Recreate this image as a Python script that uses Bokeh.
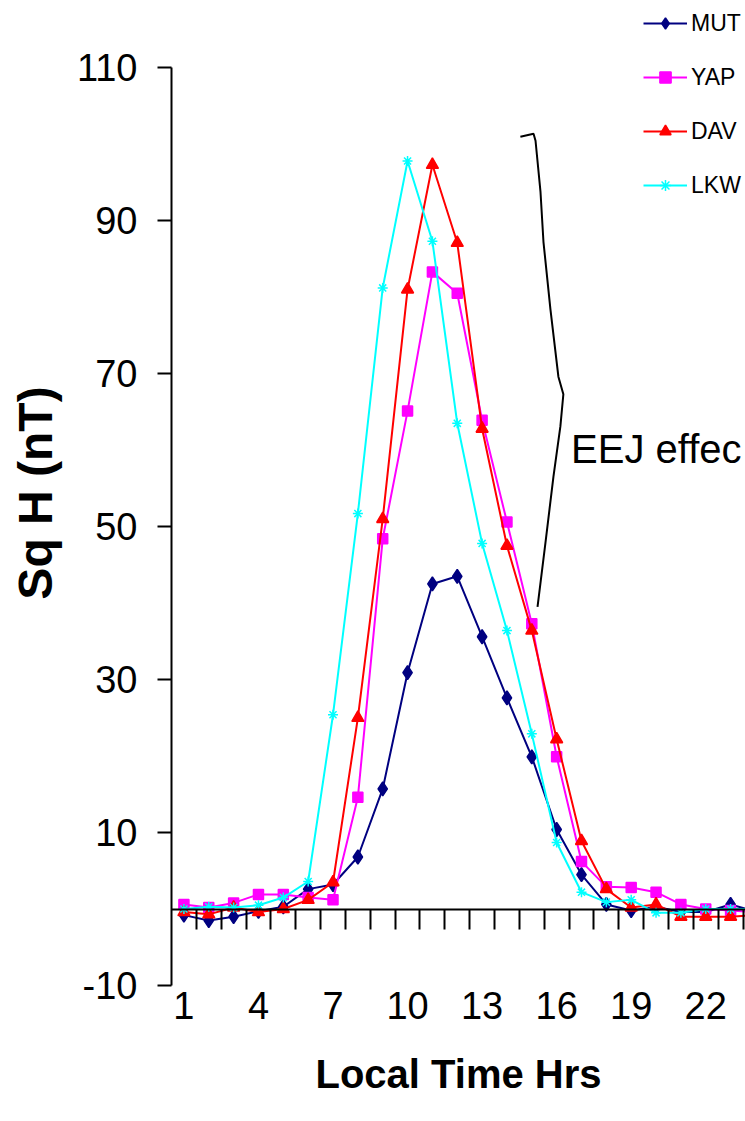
from bokeh.plotting import figure
from bokeh.models import Range1d, LinearAxis, FixedTicker, Legend, LegendItem
from bokeh.core.properties import value
from bokeh.embed import file_html
from bokeh.resources import INLINE

# local time hours and Sq H (nT) per station
hours = list(range(1, 25))
mut = [-0.8, -1.5, -1.0, -0.3, 0.3, 2.6, 3.2, 6.8, 15.7, 30.9, 42.5, 43.5,
       35.6, 27.6, 19.9, 10.4, 4.5, 0.6, -0.2, 0.3, -0.4, -0.4, 0.6, -0.3]
yap = [0.6, 0.2, 0.8, 1.9, 1.9, 1.5, 1.2, 14.6, 48.4, 65.1, 83.3, 80.5,
       63.9, 50.6, 37.3, 19.9, 6.2, 2.9, 2.8, 2.2, 0.6, 0.0, -0.2, -0.4]
dav = [-0.4, -0.7, 0.2, -0.4, 0.0, 1.2, 3.5, 25.0, 51.0, 81.0, 97.3, 87.1,
       62.8, 47.5, 36.4, 22.2, 8.9, 2.6, 0.2, 0.6, -1.0, -1.0, -1.0, -0.8]
lkw = [0.0, 0.3, 0.2, 0.5, 1.5, 3.6, 25.4, 51.7, 81.2, 97.8, 87.3, 63.5,
       47.8, 36.4, 22.9, 8.7, 2.2, 0.9, 1.2, -0.5, -0.5, 0.0, 0.0, 0.0]

y_ticks = [-10, 10, 30, 50, 70, 90, 110]
x_labels = hours[::3]

# the hand drawn brace and its note
brace_x = [14.54, 15.07, 15.15, 15.35, 15.47, 15.75, 16.07, 16.27, 16.15, 15.87, 15.55, 15.23]
brace_y = [100.96, 101.35, 100.44, 93.75, 87.2, 78.4, 69.6, 67.3, 63.1, 56.5, 47.9, 39.5]
note_x = [16.58]
note_y = [60.1]
note_text = ["EEJ effec"]

FONT = "Liberation Sans"

p = figure(width=745, height=1121,
           x_range=Range1d(0.5, 23.6), y_range=Range1d(-10, 118.78),
           x_axis_type=None, y_axis_type=None,
           min_border_left=171, min_border_right=0,
           min_border_top=0, min_border_bottom=136,
           output_backend="svg", toolbar_location=None, tools="")
p.outline_line_color = None

# y axis, only drawn from -10 to 110
yax = LinearAxis(ticker=FixedTicker(ticks=y_ticks), axis_label="Sq H (nT)", bounds=(-10, 110))
yax.major_label_overrides = {-10: "-10"}
yax.axis_line_width = 2
yax.major_tick_line_width = 2
yax.major_tick_in = 0
yax.major_tick_out = 14
yax.minor_tick_in = 0
yax.minor_tick_out = 0
yax.major_label_standoff = 20
yax.major_label_text_font = FONT
yax.major_label_text_font_size = "38px"
yax.major_label_text_color = "black"
yax.axis_label_text_font = FONT
yax.axis_label_text_font_style = "bold"
yax.axis_label_text_font_size = "48px"
yax.axis_label_text_color = "black"
yax.axis_label_standoff = 12
p.add_layout(yax, "left")

# hour labels at the bottom
xax = LinearAxis(ticker=FixedTicker(ticks=x_labels), axis_label="Local Time Hrs")
xax.axis_line_color = None
xax.major_tick_line_color = None
xax.minor_tick_line_color = None
xax.major_tick_out = 0
xax.major_tick_in = 0
xax.minor_tick_out = 0
xax.major_label_standoff = 6
xax.major_label_text_font = FONT
xax.major_label_text_font_size = "38px"
xax.major_label_text_color = "black"
xax.axis_label_text_font = FONT
xax.axis_label_text_font_style = "bold"
xax.axis_label_text_font_size = "40px"
xax.axis_label_text_color = "black"
xax.axis_label_standoff = 30
p.add_layout(xax, "below")

# category axis crossing at zero, ticks between the hours
zax = LinearAxis(ticker=FixedTicker(ticks=[h + 0.5 for h in hours]), fixed_location=0)
zax.axis_line_width = 2
zax.major_tick_line_width = 2
zax.major_tick_in = 20
zax.major_tick_out = 0
zax.minor_tick_in = 0
zax.minor_tick_out = 0
zax.major_label_standoff = 0
zax.major_label_text_alpha = 0
zax.major_label_text_font_size = "0px"
p.add_layout(zax, "above")

series = [
    ("MUT", mut, "#000080", "diamond", 14),
    ("YAP", yap, "#FF00FF", "square", 10),
    ("DAV", dav, "#FF0000", "triangle", 12),
    ("LKW", lkw, "#00FFFF", "asterisk", 10),
]
items = []
for name, vals, color, marker, size in series:
    l = p.line(hours, vals, line_color=color, line_width=2)
    s = p.scatter(hours, vals, marker=marker, size=size,
                  fill_color=color, line_color=color, line_width=1.5)
    items.append(LegendItem(label=name, renderers=[l, s]))

p.line(brace_x, brace_y, line_color="black", line_width=2)
p.text(x=note_x, y=note_y, text=note_text, text_font=value(FONT),
       text_font_size="40px", text_baseline="alphabetic", text_align="left",
       text_color="black")

legend = Legend(items=items, location=(472, 786), orientation="vertical",
                glyph_width=44, glyph_height=28, label_height=28, spacing=26,
                padding=0, margin=0, label_standoff=4,
                label_text_font=FONT, label_text_font_size="23px",
                label_text_color="black",
                border_line_color=None, background_fill_alpha=0)
p.add_layout(legend)

open("out.html", "w").write(file_html(p, INLINE))
